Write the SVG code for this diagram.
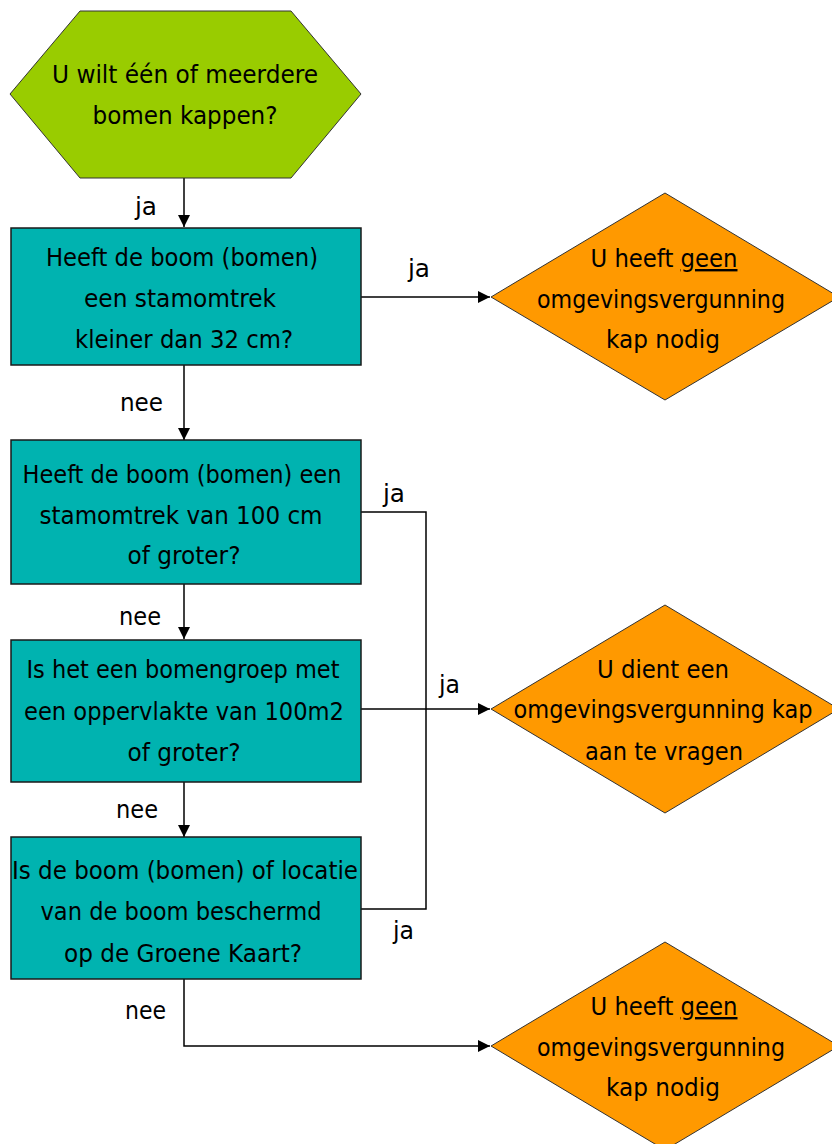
<svg xmlns="http://www.w3.org/2000/svg" width="832" height="1144" viewBox="0 0 832 1144">
<style>
text{font-family:"Liberation Sans Narrow","DejaVu Sans Condensed","Liberation Sans",sans-serif;font-size:24px;fill:#000;}
.c{text-anchor:middle;}
.box{fill:#00b3b0;stroke:#1a1a1a;stroke-width:1.5;}
.out{fill:#ff9900;stroke:#333;stroke-width:1;}
.start{fill:#99cc00;stroke:#333;stroke-width:1;}
.ln{fill:none;stroke:#000;stroke-width:1.5;}
</style>
<defs>
<marker id="ah" viewBox="0 0 10 10" refX="10" refY="5" markerWidth="12" markerHeight="12" markerUnits="userSpaceOnUse" orient="auto">
<path d="M0,0 L10,5 L0,10 z" fill="#000"/>
</marker>
</defs>
<g id="connectors">
<path class="ln" d="M184,178 V227" marker-end="url(#ah)"/>
<path class="ln" d="M361,297 H490" marker-end="url(#ah)"/>
<path class="ln" d="M184,365 V440" marker-end="url(#ah)"/>
<path class="ln" d="M184,584 V639" marker-end="url(#ah)"/>
<path class="ln" d="M184,782 V837" marker-end="url(#ah)"/>
<path class="ln" d="M361,512 H426 V909 H361"/>
<path class="ln" d="M361,709 H490" stroke-width="2" marker-end="url(#ah)"/>
<path class="ln" d="M184,979 V1046 H490" marker-end="url(#ah)"/>
<text x="135" y="215" textLength="22" lengthAdjust="spacingAndGlyphs">ja</text>
<text x="408" y="277" textLength="22" lengthAdjust="spacingAndGlyphs">ja</text>
<text x="120" y="411" textLength="43" lengthAdjust="spacingAndGlyphs">nee</text>
<text x="383" y="502" textLength="22" lengthAdjust="spacingAndGlyphs">ja</text>
<text x="119" y="625" textLength="42" lengthAdjust="spacingAndGlyphs">nee</text>
<text x="439" y="693" textLength="21" lengthAdjust="spacingAndGlyphs">ja</text>
<text x="116" y="818" textLength="42" lengthAdjust="spacingAndGlyphs">nee</text>
<text x="393" y="939" textLength="21" lengthAdjust="spacingAndGlyphs">ja</text>
<text x="125" y="1019" textLength="41" lengthAdjust="spacingAndGlyphs">nee</text>
</g>
<g id="start">
<polygon class="start" points="80,11 291,11 361,94 291,178 80,178 10,94"/>
<text class="c" x="185" y="83" textLength="266" lengthAdjust="spacingAndGlyphs">U wilt één of meerdere</text>
<text class="c" x="185" y="124" textLength="185" lengthAdjust="spacingAndGlyphs">bomen kappen?</text>
</g>
<g id="q1">
<rect class="box" x="11" y="228" width="350" height="137"/>
<text class="c" x="182" y="266" textLength="272" lengthAdjust="spacingAndGlyphs">Heeft de boom (bomen)</text>
<text class="c" x="180" y="307" textLength="192" lengthAdjust="spacingAndGlyphs">een stamomtrek</text>
<text class="c" x="184" y="348" textLength="218" lengthAdjust="spacingAndGlyphs">kleiner dan 32 cm?</text>
</g>
<g id="r1">
<polygon class="out" points="491,297 665,193 839,297 665,400"/>
<text class="c" x="664" y="267" textLength="147" lengthAdjust="spacingAndGlyphs">U heeft <tspan text-decoration="underline">geen</tspan></text>
<text class="c" x="661" y="308" textLength="248" lengthAdjust="spacingAndGlyphs">omgevingsvergunning</text>
<text class="c" x="663" y="348" textLength="114" lengthAdjust="spacingAndGlyphs">kap nodig</text>
</g>
<g id="q2">
<rect class="box" x="11" y="440" width="350" height="144"/>
<text class="c" x="182" y="483" textLength="319" lengthAdjust="spacingAndGlyphs">Heeft de boom (bomen) een</text>
<text class="c" x="181" y="524" textLength="283" lengthAdjust="spacingAndGlyphs">stamomtrek van 100 cm</text>
<text class="c" x="184" y="564" textLength="113" lengthAdjust="spacingAndGlyphs">of groter?</text>
</g>
<g id="q3">
<rect class="box" x="11" y="640" width="350" height="142"/>
<text class="c" x="183" y="678" textLength="313" lengthAdjust="spacingAndGlyphs">Is het een bomengroep met</text>
<text class="c" x="184" y="720" textLength="320" lengthAdjust="spacingAndGlyphs">een oppervlakte van 100m2</text>
<text class="c" x="184" y="761" textLength="113" lengthAdjust="spacingAndGlyphs">of groter?</text>
</g>
<g id="r2">
<polygon class="out" points="491,709 665,605 839,709 665,813"/>
<text class="c" x="663" y="678" textLength="132" lengthAdjust="spacingAndGlyphs">U dient een</text>
<text class="c" x="663" y="718" textLength="299" lengthAdjust="spacingAndGlyphs">omgevingsvergunning kap</text>
<text class="c" x="664" y="760" textLength="158" lengthAdjust="spacingAndGlyphs">aan te vragen</text>
</g>
<g id="q4">
<rect class="box" x="11" y="837" width="350" height="142"/>
<text class="c" x="185" y="879" textLength="346" lengthAdjust="spacingAndGlyphs">Is de boom (bomen) of locatie</text>
<text class="c" x="181" y="920" textLength="281" lengthAdjust="spacingAndGlyphs">van de boom beschermd</text>
<text class="c" x="183" y="962" textLength="238" lengthAdjust="spacingAndGlyphs">op de Groene Kaart?</text>
</g>
<g id="r3">
<polygon class="out" points="491,1046 665,942 839,1046 665,1150"/>
<text class="c" x="664" y="1015" textLength="147" lengthAdjust="spacingAndGlyphs">U heeft <tspan text-decoration="underline">geen</tspan></text>
<text class="c" x="661" y="1056" textLength="248" lengthAdjust="spacingAndGlyphs">omgevingsvergunning</text>
<text class="c" x="663" y="1096" textLength="114" lengthAdjust="spacingAndGlyphs">kap nodig</text>
</g>
</svg>
